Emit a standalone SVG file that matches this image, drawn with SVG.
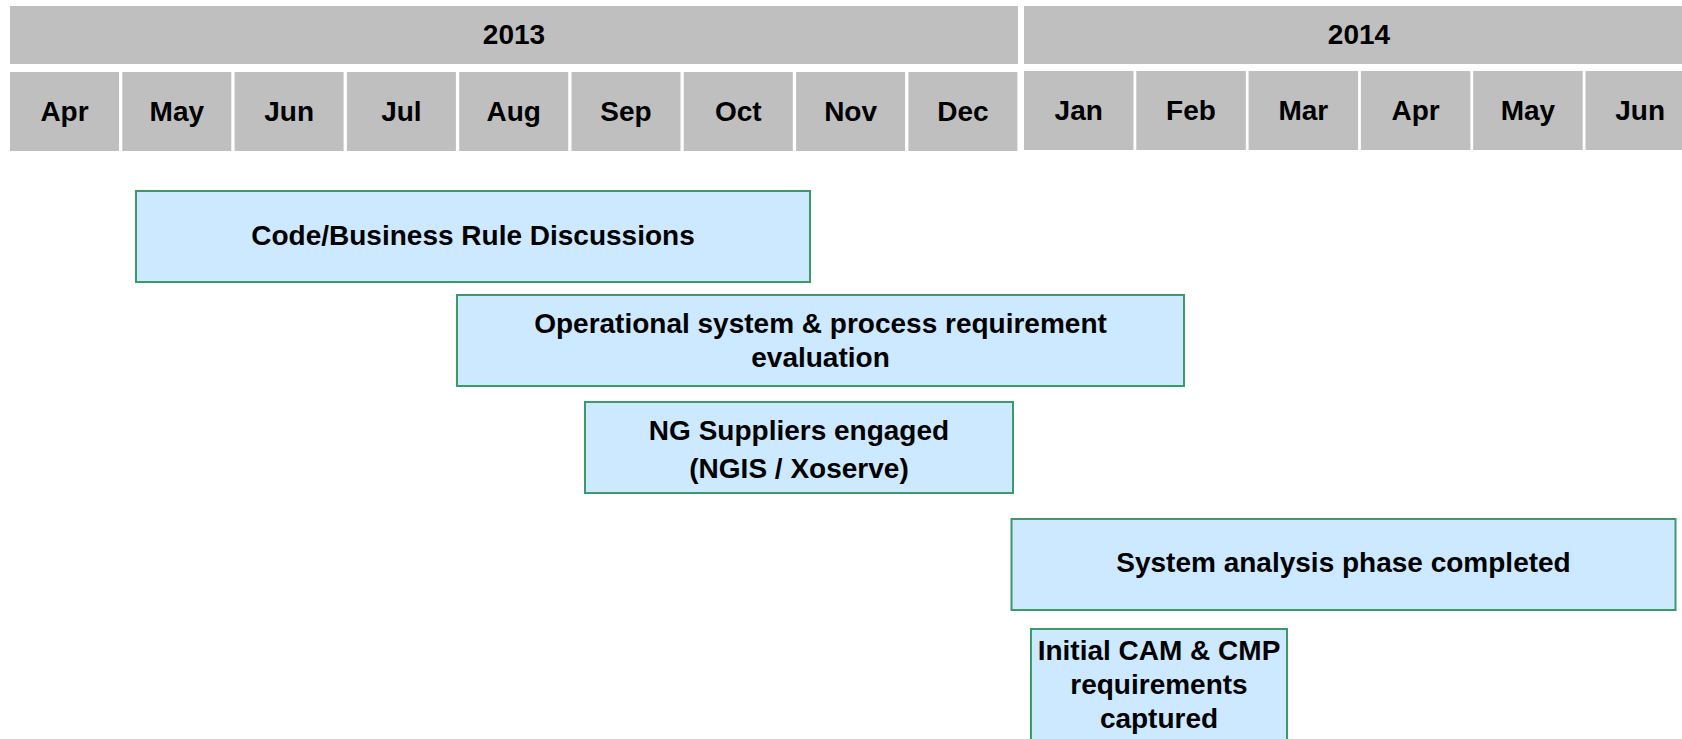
<svg xmlns="http://www.w3.org/2000/svg" width="1682" height="739" viewBox="0 0 1682 739">
<style>
.hdr{fill:#bfbfbf}
.ht{font-family:"Liberation Sans",Arial,sans-serif;font-weight:bold;font-size:28px;fill:#000;text-anchor:middle}
.box{fill:#cce9ff;stroke:#3a9a68;stroke-width:2}
.bt{font-family:"Liberation Sans",Arial,sans-serif;font-weight:bold;font-size:28px;fill:#000;text-anchor:middle}
</style>
<rect width="1682" height="739" fill="#fff"/>
<g id="header">
<rect class="hdr" x="10" y="6" width="1008" height="58"/>
<rect class="hdr" x="1024" y="6" width="670" height="58"/>
<text class="ht" x="514" y="44">2013</text>
<text class="ht" x="1359" y="44">2014</text>
<rect class="hdr" x="10" y="72" width="109" height="79"/>
<rect class="hdr" x="122.3" y="72" width="109" height="79"/>
<rect class="hdr" x="234.6" y="72" width="109" height="79"/>
<rect class="hdr" x="346.9" y="72" width="109" height="79"/>
<rect class="hdr" x="459.2" y="72" width="109" height="79"/>
<rect class="hdr" x="571.5" y="72" width="109" height="79"/>
<rect class="hdr" x="683.8" y="72" width="109" height="79"/>
<rect class="hdr" x="796.1" y="72" width="109" height="79"/>
<rect class="hdr" x="908.4" y="72" width="109" height="79"/>
<rect class="hdr" x="1024" y="71" width="109.5" height="79"/>
<rect class="hdr" x="1136.3" y="71" width="109.5" height="79"/>
<rect class="hdr" x="1248.6" y="71" width="109.5" height="79"/>
<rect class="hdr" x="1360.9" y="71" width="109.5" height="79"/>
<rect class="hdr" x="1473.2" y="71" width="109.5" height="79"/>
<rect class="hdr" x="1585.5" y="71" width="109.5" height="79"/>
<text class="ht" x="64.5" y="120.5">Apr</text>
<text class="ht" x="176.8" y="120.5">May</text>
<text class="ht" x="289.1" y="120.5">Jun</text>
<text class="ht" x="401.4" y="120.5">Jul</text>
<text class="ht" x="513.7" y="120.5">Aug</text>
<text class="ht" x="626" y="120.5">Sep</text>
<text class="ht" x="738.3" y="120.5">Oct</text>
<text class="ht" x="850.6" y="120.5">Nov</text>
<text class="ht" x="962.9" y="120.5">Dec</text>
<text class="ht" x="1078.7" y="119.5">Jan</text>
<text class="ht" x="1191" y="119.5">Feb</text>
<text class="ht" x="1303.3" y="119.5">Mar</text>
<text class="ht" x="1415.6" y="119.5">Apr</text>
<text class="ht" x="1527.9" y="119.5">May</text>
<text class="ht" x="1640.2" y="119.5">Jun</text>
</g>
<g id="connectors"></g>
<g id="task1">
<rect class="box" x="136" y="191" width="674" height="91"/>
<text class="bt" x="473" y="245">Code/Business Rule Discussions</text>
</g>
<g id="task2">
<rect class="box" x="457" y="295" width="727" height="91"/>
<text class="bt" x="820.5" y="333">Operational system &amp; process requirement</text>
<text class="bt" x="820.5" y="367">evaluation</text>
</g>
<g id="task3">
<rect class="box" x="585" y="402" width="428" height="91"/>
<text class="bt" x="799" y="440">NG Suppliers engaged</text>
<text class="bt" x="799" y="478">(NGIS / Xoserve)</text>
</g>
<g id="task4">
<rect class="box" x="1011.5" y="519" width="664" height="91"/>
<text class="bt" x="1343.5" y="572">System analysis phase completed</text>
</g>
<g id="task5">
<rect class="box" x="1031" y="629" width="256" height="120"/>
<text class="bt" x="1159" y="660">Initial CAM &amp; CMP</text>
<text class="bt" x="1159" y="694">requirements</text>
<text class="bt" x="1159" y="728">captured</text>
</g>
</svg>
